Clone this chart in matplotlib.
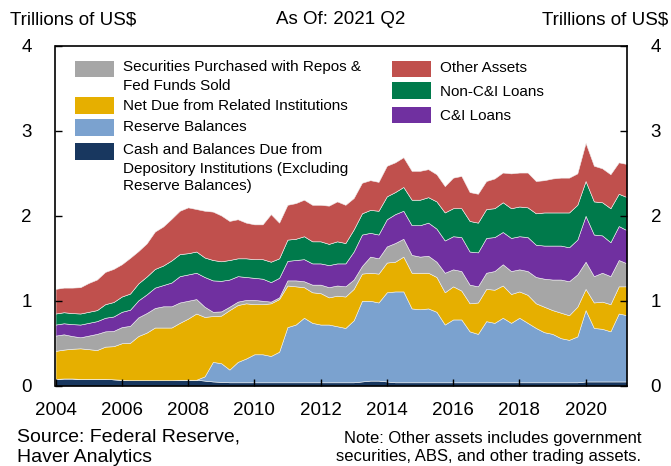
import numpy as np
import matplotlib
matplotlib.use("Agg")
import matplotlib.pyplot as plt
from matplotlib.patches import Rectangle

plt.rcParams['font.family'] = ['Liberation Sans', 'DejaVu Sans']

# Quarterly, 2004 Q1 .. 2021 Q2 (trillions of US$)
years = np.repeat(np.arange(2004, 2022), 4)[:70]
quarters = np.tile([1, 2, 3, 4], 18)[:70]

cash = [0.08, 0.085, 0.085, 0.08, 0.08, 0.08, 0.08, 0.075, 0.07, 0.065, 0.065, 0.065, 0.065, 0.065, 0.065, 0.07, 0.07,
        0.07, 0.06, 0.05, 0.045, 0.04, 0.04, 0.04, 0.04, 0.04, 0.04, 0.04, 0.04, 0.04, 0.04, 0.04, 0.04, 0.04,
        0.04, 0.04, 0.04, 0.05, 0.06, 0.06, 0.05, 0.04, 0.04, 0.04, 0.04, 0.04, 0.04, 0.04, 0.04, 0.04, 0.04, 0.04,
        0.04, 0.04, 0.04, 0.04, 0.04, 0.04, 0.04, 0.04, 0.04, 0.04, 0.04, 0.04, 0.05, 0.05, 0.05, 0.05, 0.05, 0.05]
reserve = [0, 0, 0, 0, 0, 0, 0, 0, 0, 0, 0, 0, 0, 0, 0, 0, 0,
           0.0, 0.05, 0.23, 0.22, 0.15, 0.24, 0.28, 0.33, 0.33, 0.31, 0.36, 0.65, 0.68, 0.76, 0.70, 0.68, 0.68,
           0.66, 0.64, 0.73, 0.95, 0.94, 0.92, 1.05, 1.07, 1.07, 0.87, 0.86, 0.87, 0.83, 0.68, 0.74, 0.74, 0.60, 0.57,
           0.72, 0.70, 0.76, 0.70, 0.76, 0.70, 0.64, 0.59, 0.57, 0.52, 0.50, 0.54, 0.84, 0.63, 0.62, 0.59, 0.80, 0.78]
net_due = [0.33, 0.34, 0.35, 0.36, 0.35, 0.34, 0.38, 0.39, 0.43, 0.44, 0.52, 0.56, 0.62, 0.62, 0.62, 0.67, 0.72,
           0.78, 0.70, 0.54, 0.56, 0.70, 0.67, 0.65, 0.59, 0.59, 0.62, 0.62, 0.49, 0.45, 0.36, 0.36, 0.37, 0.32,
           0.36, 0.37, 0.37, 0.32, 0.33, 0.34, 0.35, 0.35, 0.41, 0.42, 0.43, 0.42, 0.41, 0.38, 0.39, 0.34, 0.33, 0.37,
           0.38, 0.39, 0.38, 0.34, 0.31, 0.33, 0.29, 0.30, 0.28, 0.30, 0.29, 0.35, 0.25, 0.30, 0.32, 0.32, 0.32, 0.34]
securities = [0.18, 0.18, 0.15, 0.13, 0.16, 0.19, 0.18, 0.18, 0.19, 0.20, 0.22, 0.23, 0.23, 0.25, 0.25, 0.24, 0.21,
              0.17, 0.12, 0.05, 0.05, 0.04, 0.04, 0.04, 0.05, 0.04, 0.02, 0.02, 0.06, 0.07, 0.07, 0.09, 0.10, 0.12,
              0.12, 0.12, 0.11, 0.09, 0.19, 0.18, 0.19, 0.22, 0.21, 0.21, 0.19, 0.20, 0.18, 0.23, 0.20, 0.23, 0.22, 0.19,
              0.19, 0.22, 0.25, 0.27, 0.26, 0.28, 0.31, 0.33, 0.36, 0.39, 0.40, 0.38, 0.32, 0.31, 0.34, 0.33, 0.31, 0.27]
ci_loans = [0.13, 0.13, 0.14, 0.15, 0.15, 0.15, 0.16, 0.17, 0.18, 0.19, 0.20, 0.22, 0.24, 0.25, 0.28, 0.31, 0.31,
            0.31, 0.35, 0.37, 0.36, 0.32, 0.30, 0.27, 0.26, 0.26, 0.23, 0.23, 0.23, 0.24, 0.26, 0.25, 0.25, 0.26,
            0.26, 0.27, 0.33, 0.37, 0.28, 0.28, 0.32, 0.34, 0.33, 0.35, 0.37, 0.39, 0.39, 0.38, 0.39, 0.40, 0.39, 0.40,
            0.41, 0.40, 0.38, 0.39, 0.39, 0.40, 0.38, 0.39, 0.40, 0.40, 0.40, 0.41, 0.54, 0.49, 0.44, 0.40, 0.40, 0.39]
non_ci_loans = [0.13, 0.13, 0.13, 0.13, 0.13, 0.13, 0.16, 0.17, 0.18, 0.19, 0.20, 0.21, 0.22, 0.23, 0.26, 0.26, 0.25,
                0.25, 0.23, 0.24, 0.23, 0.23, 0.21, 0.22, 0.22, 0.23, 0.24, 0.23, 0.25, 0.25, 0.27, 0.26, 0.26, 0.25,
                0.26, 0.24, 0.26, 0.25, 0.27, 0.28, 0.27, 0.26, 0.28, 0.30, 0.30, 0.30, 0.32, 0.33, 0.33, 0.34, 0.36, 0.35,
                0.34, 0.34, 0.35, 0.35, 0.35, 0.35, 0.37, 0.39, 0.39, 0.39, 0.41, 0.41, 0.41, 0.39, 0.39, 0.40, 0.38, 0.39]
other = [0.29, 0.29, 0.30, 0.31, 0.34, 0.36, 0.38, 0.39, 0.38, 0.42, 0.38, 0.39, 0.44, 0.46, 0.49, 0.51, 0.54,
         0.50, 0.55, 0.57, 0.54, 0.46, 0.46, 0.42, 0.41, 0.41, 0.56, 0.42, 0.41, 0.42, 0.43, 0.43, 0.43, 0.45,
         0.47, 0.45, 0.37, 0.36, 0.35, 0.34, 0.36, 0.35, 0.35, 0.34, 0.34, 0.33, 0.32, 0.31, 0.36, 0.38, 0.34, 0.34,
         0.33, 0.35, 0.35, 0.41, 0.40, 0.41, 0.38, 0.38, 0.40, 0.41, 0.41, 0.37, 0.45, 0.42, 0.40, 0.40, 0.37, 0.39]

colors = ['#18375F', '#7BA2CF', '#E6AF00', '#A6A6A6', '#7030A0', '#007A4B', '#C0504D']

x = years + (quarters - 1) / 4.0

W, H = 671, 466
fig = plt.figure(figsize=(W / 100, H / 100), dpi=100)
ax = fig.add_axes([55.5 / W, 1 - 385.7 / H, (627 - 55.5) / W, (385.7 - 46) / H])

ax.stackplot(x, cash, reserve, net_due, securities, ci_loans, non_ci_loans, other,
             colors=colors, edgecolor='#f0f0f0', linewidth=0.4)

ax.set_xlim(2004, 2021.25)
ax.set_ylim(0, 4)
ax.set_xticks(range(2004, 2021, 2))
ax.set_yticks([0, 1, 2, 3, 4])
ax.tick_params(axis='x', direction='in', length=5, width=1, labelsize=13.5, pad=12)
ax.tick_params(axis='y', direction='in', length=5, width=1, labelsize=13.5, pad=17,
               right=True, labelright=True)
for s in ax.spines.values():
    s.set_linewidth(1.2)


def px(xp, yp):
    return xp / W, 1 - yp / H


# header texts
fig.text(*px(10, 20), "Trillions of US$", fontsize=13.5, va='center', ha='left')
fig.text(*px(341, 20), "As Of: 2021 Q2", fontsize=13.5, va='center', ha='center')
fig.text(*px(668, 20), "Trillions of US$", fontsize=13.5, va='center', ha='right')

# legend, drawn by hand to match two column layout
left_items = [
    (colors[3], 60.7, ["Securities Purchased with Repos &", "Fed Funds Sold"], 67.5),
    (colors[2], 97.3, ["Net Due from Related Institutions"], 105.5),
    (colors[1], 119.3, ["Reserve Balances"], 127.5),
    (colors[0], 143.3, ["Cash and Balances Due from", "Depository Institutions (Excluding",
                        "Reserve Balances)"], 150.5),
]
right_items = [
    (colors[6], 60.7, ["Other Assets"], 67.5),
    (colors[5], 82.3, ["Non-C&I Loans"], 91.5),
    (colors[4], 106.7, ["C&I Loans"], 115.5),
]


def draw_items(items, px0, tx0):
    for col, ytop, lines, ytext in items:
        x0, y0 = px(px0, ytop + 16.5)
        fig.patches.append(Rectangle((x0, y0), 39 / W, 16.5 / H, transform=fig.transFigure,
                                     facecolor=col, edgecolor='none', zorder=5))
        for k, line in enumerate(lines):
            fig.text(*px(tx0, ytext + 18 * k), line, fontsize=11, va='center', ha='left')


draw_items(left_items, 75, 123)
draw_items(right_items, 391.7, 440)

# footer
fig.text(*px(17, 437), "Source: Federal Reserve,", fontsize=14, va='center', ha='left')
fig.text(*px(17, 457), "Haver Analytics", fontsize=14, va='center', ha='left')
fig.text(*px(641, 438), "Note: Other assets includes government", fontsize=12, va='center', ha='right')
fig.text(*px(641, 456), "securities, ABS, and other trading assets.", fontsize=12, va='center', ha='right')

fig.savefig("out.png", dpi=100)
